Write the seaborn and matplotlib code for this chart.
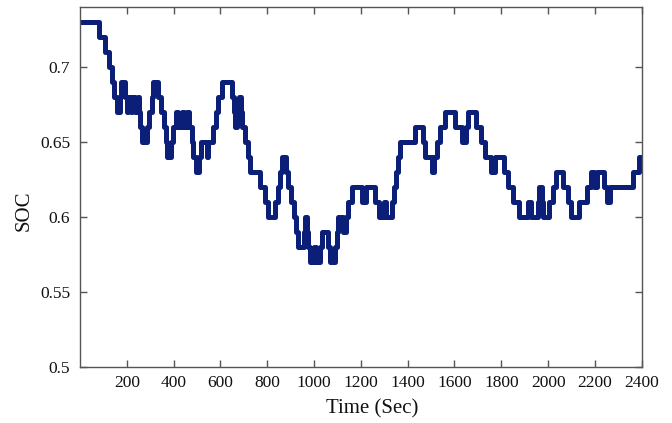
import matplotlib
matplotlib.use("Agg")
import matplotlib.pyplot as plt
import seaborn as sns
import pandas as pd

# Change points of the step signal (time in s, SOC value)
time_s = [0, 82, 105, 124, 136, 144, 159, 170, 176, 193, 201, 207, 216, 224, 235, 247, 253,
          258, 267, 285, 295, 307, 314, 335, 347, 361, 366, 371, 389, 399, 409, 420, 435,
          446, 457, 466, 477, 485, 494, 509, 517, 541, 549, 570, 580, 591, 606, 648, 657,
          664, 672, 680, 687, 694, 705, 716, 725, 769, 790, 805, 833, 845, 855, 865, 879,
          890, 901, 913, 921, 933, 956, 961, 970, 976, 983, 1001, 1007, 1027, 1032, 1061,
          1069, 1089, 1096, 1103, 1122, 1135, 1143, 1163, 1205, 1223, 1262, 1276, 1297,
          1309, 1333, 1340, 1349, 1357, 1368, 1432, 1464, 1472, 1504, 1514, 1525, 1539,
          1561, 1603, 1632, 1650, 1659, 1693, 1713, 1731, 1756, 1774, 1810, 1827, 1852,
          1876, 1916, 1926, 1955, 1962, 1973, 1980, 2002, 2020, 2034, 2063, 2083, 2097,
          2130, 2165, 2182, 2194, 2208, 2237, 2251, 2265, 2362, 2390, 2400]
soc = [0.73, 0.72, 0.71, 0.70, 0.69, 0.68, 0.67, 0.68, 0.69, 0.68, 0.67, 0.68, 0.67, 0.68,
       0.67, 0.68, 0.67, 0.66, 0.65, 0.66, 0.67, 0.68, 0.69, 0.68, 0.67, 0.66, 0.65, 0.64,
       0.65, 0.66, 0.67, 0.66, 0.67, 0.66, 0.67, 0.66, 0.65, 0.64, 0.63, 0.64, 0.65, 0.64,
       0.65, 0.66, 0.67, 0.68, 0.69, 0.68, 0.67, 0.66, 0.67, 0.68, 0.67, 0.66, 0.65, 0.64,
       0.63, 0.62, 0.61, 0.60, 0.61, 0.62, 0.63, 0.64, 0.63, 0.62, 0.61, 0.60, 0.59, 0.58,
       0.59, 0.60, 0.59, 0.58, 0.57, 0.58, 0.57, 0.58, 0.59, 0.58, 0.57, 0.58, 0.59, 0.60,
       0.59, 0.60, 0.61, 0.62, 0.61, 0.62, 0.61, 0.60, 0.61, 0.60, 0.61, 0.62, 0.63, 0.64,
       0.65, 0.66, 0.65, 0.64, 0.63, 0.64, 0.65, 0.66, 0.67, 0.66, 0.65, 0.66, 0.67, 0.66,
       0.65, 0.64, 0.63, 0.64, 0.63, 0.62, 0.61, 0.60, 0.61, 0.60, 0.61, 0.62, 0.61, 0.60,
       0.61, 0.62, 0.63, 0.62, 0.61, 0.60, 0.61, 0.62, 0.63, 0.62, 0.63, 0.62, 0.61, 0.62,
       0.63, 0.64, 0.64]

x_ticks = [200, 400, 600, 800, 1000, 1200, 1400, 1600, 1800, 2000, 2200, 2400]
y_ticks = [0.5, 0.55, 0.6, 0.65, 0.7]
y_tick_labels = ["0.5", "0.55", "0.6", "0.65", "0.7"]

sns.set_theme(style="white")
plt.rcParams["font.family"] = ["Liberation Serif", "DejaVu Serif"]

df = pd.DataFrame({"Time": time_s, "SOC": soc})

fig = plt.figure(figsize=(6.72, 4.23), dpi=100)
ax = fig.add_axes([0.119, 0.132, 0.836, 0.851])
sns.lineplot(data=df, x="Time", y="SOC", ax=ax, drawstyle="steps-post",
             color="#0c1f78", linewidth=3.6, estimator=None)

ax.set_xlim(0, 2400)
ax.set_ylim(0.5, 0.74)
ax.set_xticks(x_ticks)
ax.set_xticklabels([str(t) for t in x_ticks])
ax.set_yticks(y_ticks)
ax.set_yticklabels(y_tick_labels)
ax.tick_params(direction="in", length=5, width=1, colors="#555555",
               labelcolor="#111111", labelsize=12.5, top=True, right=True,
               bottom=True, left=True)
ax.tick_params(axis="x", pad=6)
ax.tick_params(axis="y", pad=7)
for s in ax.spines.values():
    s.set_color("#555555")
    s.set_linewidth(1.0)
ax.set_xlabel("Time (Sec)", fontsize=15, color="#111111")
ax.set_ylabel("SOC", fontsize=15, color="#111111")
ax.xaxis.set_label_coords(0.52, -0.088)
ax.yaxis.set_label_coords(-0.083, 0.435)

fig.savefig("out.png", dpi=100)
